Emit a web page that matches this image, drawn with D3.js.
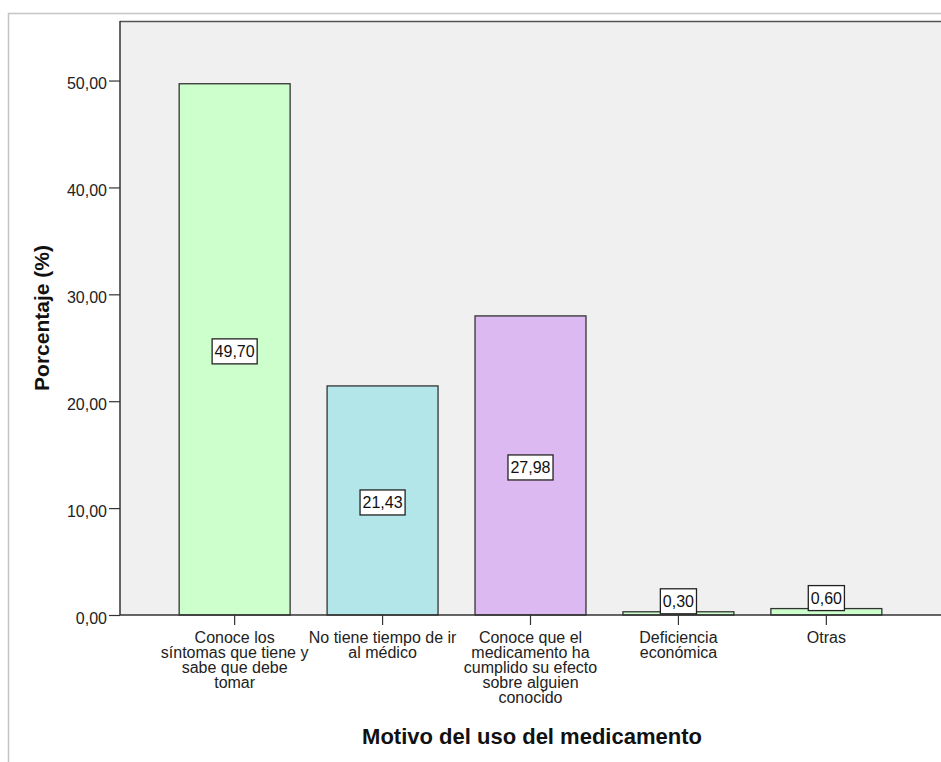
<!DOCTYPE html>
<html>
<head>
<meta charset="utf-8">
<script src="https://cdn.jsdelivr.net/npm/d3@7"></script>
<style>
  html, body { margin: 0; padding: 0; background: #fff; }
  svg { display: block; }
</style>
</head>
<body>
<svg id="chart" width="941" height="762"></svg>
<script>
// Motivos del uso del medicamento (porcentaje de encuestados)
const categories = [
  "Conoce los síntomas que tiene y sabe que debe tomar",
  "No tiene tiempo de ir al médico",
  "Conoce que el medicamento ha cumplido su efecto sobre alguien conocido",
  "Deficiencia económica",
  "Otras"
];
// Category labels broken into lines as printed under the axis
const categoryLines = [
  ["Conoce los", "síntomas que tiene y", "sabe que debe", "tomar"],
  ["No tiene tiempo de ir", "al médico"],
  ["Conoce que el", "medicamento ha", "cumplido su efecto", "sobre alguien", "conocido"],
  ["Deficiencia", "económica"],
  ["Otras"]
];
const percentages = [49.70, 21.43, 27.98, 0.30, 0.60];
const barColors = ["#ccffcc", "#b3e6e8", "#ddb9f2", "#ccffcc", "#ccffcc"];
const yTicks = [0, 10, 20, 30, 40, 50];

const fmt = v => d3.format(".2f")(v).replace(".", ",");

const svg = d3.select("#chart");
const font = "'Liberation Sans', Arial, sans-serif";

// Outer chart frame
svg.append("rect")
  .attr("x", 8.5).attr("y", 13.5)
  .attr("width", 941).attr("height", 760)
  .attr("fill", "#fff").attr("stroke", "#c4c4c4").attr("stroke-width", 1.5);

const plot = { left: 120, right: 941, top: 21, bottom: 615 };

const y = d3.scaleLinear()
  .domain([0, 55.57])
  .range([plot.bottom, plot.top]);

const x = d3.scaleBand()
  .domain(categories)
  .range([plot.left, plot.right])
  .paddingInner(0.25)
  .paddingOuter(0.4);

// Plot background
svg.append("rect")
  .attr("x", plot.left).attr("y", plot.top)
  .attr("width", plot.right - plot.left).attr("height", plot.bottom - plot.top)
  .attr("fill", "#f0f0f0");

// Top border of plot area
svg.append("line")
  .attr("x1", plot.left).attr("x2", plot.right)
  .attr("y1", plot.top + 0.5).attr("y2", plot.top + 0.5)
  .attr("stroke", "#555").attr("stroke-width", 1.5);

// Bars
svg.append("g").selectAll("rect")
  .data(percentages)
  .join("rect")
  .attr("x", (d, i) => x(categories[i]))
  .attr("y", d => y(d))
  .attr("width", x.bandwidth())
  .attr("height", d => y(0) - y(d))
  .attr("fill", (d, i) => barColors[i])
  .attr("stroke", "#333")
  .attr("stroke-width", 1.3);

// Y axis
const yAxis = svg.append("g")
  .attr("transform", `translate(${plot.left},0)`)
  .call(d3.axisLeft(y).tickValues(yTicks).tickFormat(fmt).tickSize(11).tickPadding(2).tickSizeOuter(0));
yAxis.select(".domain").attr("stroke", "#333").attr("stroke-width", 1.5)
  .attr("d", `M0,${plot.top}V${plot.bottom}`);
yAxis.selectAll(".tick line").attr("stroke", "#333").attr("stroke-width", 1.2);
yAxis.selectAll(".tick text")
  .attr("font-family", font).attr("font-size", 16).attr("fill", "#222")
  .attr("dy", "0.5em");

// X axis
const xAxis = svg.append("g")
  .attr("transform", `translate(0,${plot.bottom})`)
  .call(d3.axisBottom(x).tickSize(10).tickSizeOuter(0).tickFormat(""));
xAxis.select(".domain").attr("stroke", "#333").attr("stroke-width", 1.5)
  .attr("d", `M${plot.left},0H${plot.right}`);
xAxis.selectAll(".tick line").attr("stroke", "#333").attr("stroke-width", 1.2);

// Multi-line category labels
categories.forEach((c, i) => {
  const cx = x(c) + x.bandwidth() / 2;
  const t = svg.append("text")
    .attr("x", cx)
    .attr("y", plot.bottom + 28)
    .attr("text-anchor", "middle")
    .attr("font-family", font).attr("font-size", 16).attr("fill", "#222");
  categoryLines[i].forEach((line, k) => {
    t.append("tspan")
      .attr("x", cx)
      .attr("dy", k === 0 ? 0 : 15)
      .text(line);
  });
});

// Value labels in boxes
const labels = svg.append("g");
percentages.forEach((v, i) => {
  const cx = x(categories[i]) + x.bandwidth() / 2;
  const g = labels.append("g");
  const t = g.append("text")
    .attr("font-family", font).attr("font-size", 16).attr("fill", "#111")
    .attr("text-anchor", "middle")
    .text(fmt(v));
  const w = t.node().getComputedTextLength() + 5;
  const h = 25;
  const barH = y(0) - y(v);
  let cy = y(v / 2) + 2;
  if (barH < h + 4) cy = y(v) - h / 2 + 2;
  g.insert("rect", "text")
    .attr("x", cx - w / 2).attr("y", cy - h / 2)
    .attr("width", w).attr("height", h)
    .attr("fill", "#fff").attr("stroke", "#222").attr("stroke-width", 1.3);
  t.attr("x", cx).attr("y", cy + 6);
});

// Axis titles
svg.append("text")
  .attr("transform", `translate(49,${318}) rotate(-90)`)
  .attr("text-anchor", "middle")
  .attr("font-family", font).attr("font-size", 21).attr("font-weight", "bold").attr("fill", "#111")
  .text("Porcentaje (%)");

svg.append("text")
  .attr("x", 532).attr("y", 744)
  .attr("text-anchor", "middle")
  .attr("font-family", font).attr("font-size", 22).attr("font-weight", "bold").attr("fill", "#111")
  .text("Motivo del uso del medicamento");
</script>
</body>
</html>
